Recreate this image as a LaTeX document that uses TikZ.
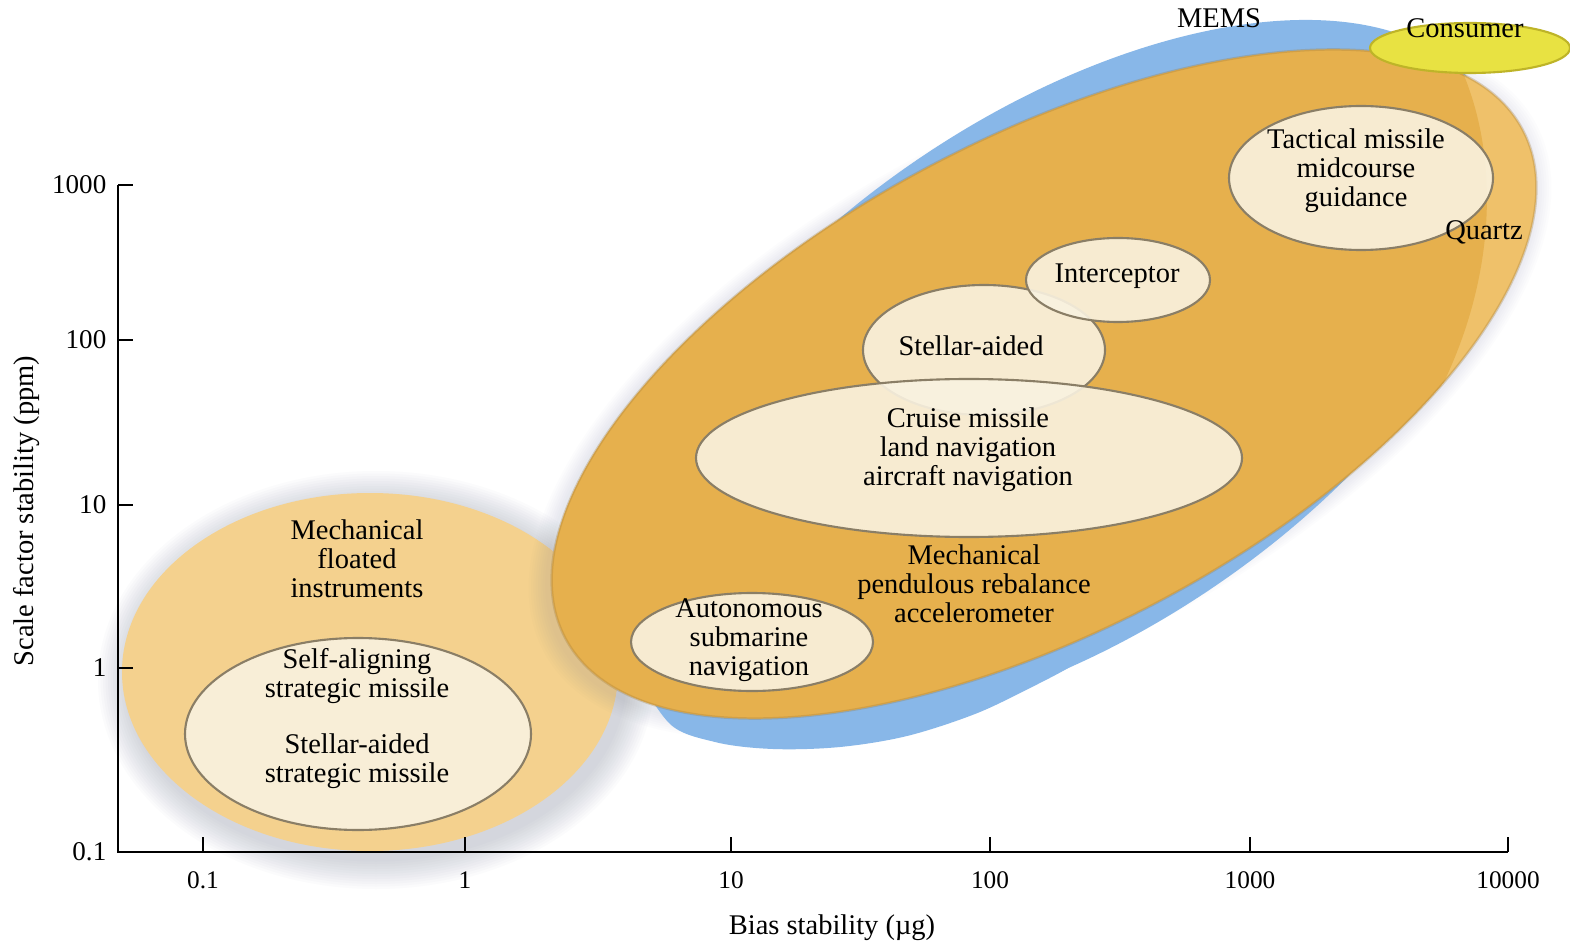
\documentclass[tikz,border=0pt]{standalone}
\usepackage{fontspec}
\setmainfont{Liberation Serif}
\definecolor{blueM}{RGB}{136,183,232}
\definecolor{orD}{RGB}{230,176,77}
\definecolor{orL}{RGB}{239,193,106}
\definecolor{leftO}{RGB}{244,209,142}
\definecolor{creamC}{RGB}{249,242,224}
\definecolor{rimC}{RGB}{138,126,102}
\definecolor{yelC}{RGB}{232,226,66}
\definecolor{yelD}{RGB}{190,180,40}
\definecolor{shadC}{RGB}{100,110,140}
\begin{document}
\begin{tikzpicture}[x=0.01cm,y=-0.01cm,
  lbl/.style={font=\fontsize{8.1}{8.25}\selectfont, align=center, inner sep=0pt, text=black},
  ticklbl/.style={font=\fontsize{7.2}{8}\selectfont, inner sep=0pt},
  yticklbl/.style={font=\fontsize{7.7}{8}\selectfont, inner sep=0pt, anchor=east},
  innerell/.style={fill=creamC, fill opacity=0.9, draw=rimC, draw opacity=1, line width=0.6pt},
  axisline/.style={line width=0.75pt, black},
  tickline/.style={line width=0.7pt, black}]
\useasboundingbox (0,0) rectangle (1570,943);
\fill[white] (0,0) rectangle (1570,943);

% shadow of the left ellipse
\foreach \i in {1,...,12}
  \fill[shadC, opacity=0.022] (376,680) ellipse [x radius={248+2.5*\i}, y radius={179+2.5*\i}];
% left ellipse: mechanical floated instruments
\fill[leftO] (370,672) ellipse [x radius=248, y radius=179];

% soft shadow of the big ellipse
\foreach \i in {1,...,8}
  \fill[shadC, opacity=0.014, shift={(1040,388)}, rotate=28] (0,0) ellipse [x radius={542+2.5*\i}, y radius={246+2*\i}];

% MEMS region (blue)
\fill[blueM, shift={(1066,373)}, rotate=34] (0,0) ellipse [x radius=500, y radius=260];
\fill[blueM] plot [smooth cycle, tension=0.55] coordinates {
  (640,660) (668,722) (715,742) (773,749) (840,747) (907,736) (975,714)
  (1030,688) (1075,664) (1115,636) (1110,600) (900,640) (720,640)};

% Quartz region (orange)
\fill[orL, shift={(1044,384)}, rotate=28] (0,0) ellipse [x radius=542, y radius=246];
\begin{scope}
  \clip[shift={(1044,384)}, rotate=28] (0,0) ellipse [x radius=542, y radius=246];
  \fill[orD] (1440,30) .. controls (1500,120) and (1505,260) .. (1440,390)
     -- (1440,943) -- (0,943) -- (0,0) -- (1440,0) -- cycle;
\end{scope}
\draw[orD!70!black, draw opacity=0.3, line width=0.7pt, shift={(1044,384)}, rotate=28] (0,0) ellipse [x radius=542, y radius=246];

% Consumer region (yellow)
\fill[yelC, draw=yelD, line width=0.6pt] (1470,48) ellipse [x radius=100, y radius=25];

% inner application ellipses
\fill[innerell] (358,734) ellipse [x radius=173, y radius=96];
\draw[innerell] (752,642) ellipse [x radius=121, y radius=49];
\draw[innerell] (984,350) ellipse [x radius=121, y radius=65];
\draw[innerell] (1118,280) ellipse [x radius=92, y radius=42];
\draw[innerell] (969,458) ellipse [x radius=273, y radius=79];
\draw[innerell] (1361,178) ellipse [x radius=132, y radius=72];

% texts
\node[lbl] (mems) at (1219,18) {MEMS};
\node[lbl] (consumer) at (1465,28) {Consumer};
\node[lbl] (tact) at (1356,171) {Tactical missile\\midcourse\\guidance};
\node[lbl] (quartz) at (1484,232) {Quartz};
\node[lbl] (inter) at (1117,276) {Interceptor};
\node[lbl] (stellar) at (971,346) {Stellar-aided};
\node[lbl] (cruise) at (968,450) {Cruise missile\\land navigation\\aircraft navigation};
\node[lbl] (pend) at (974,584) {Mechanical\\pendulous rebalance\\accelerometer};
\node[lbl] (auto) at (749,640) {Autonomous\\submarine\\navigation};
\node[lbl] (float) at (357,559) {Mechanical\\floated\\instruments};
\node[lbl] (selfal) at (357,676) {Self-aligning\\strategic missile};
\node[lbl] (stelstrat) at (357,761) {Stellar-aided\\strategic missile};

% axes
\coordinate (ytop) at (118,185);
\coordinate (orig) at (118,852);
\coordinate (xend) at (1508,852);
\draw[axisline] (ytop) -- (orig) -- (xend);
\foreach \y/\t in {185/1000, 340/100, 505/10, 668/1} {
  \draw[tickline] (118,\y) -- (133,\y);
  \node[yticklbl] (yl\t) at (107,\y) {\t};
}
\node[yticklbl] (yl01) at (107,852) {0.1};
\foreach \x/\t in {203/0.1, 465/1, 731/10, 990/100, 1250/1000, 1508/10000} {
  \draw[tickline] (\x,852) -- (\x,837);
  \node[ticklbl] (xl\x) at (\x,880) {\t};
}
\node[lbl] (xtitle) at (832,928) {Bias stability (µg)};
\node[lbl, rotate=90] (ytitle) at (27,511) {Scale factor stability (ppm)};
\end{tikzpicture}
\end{document}
